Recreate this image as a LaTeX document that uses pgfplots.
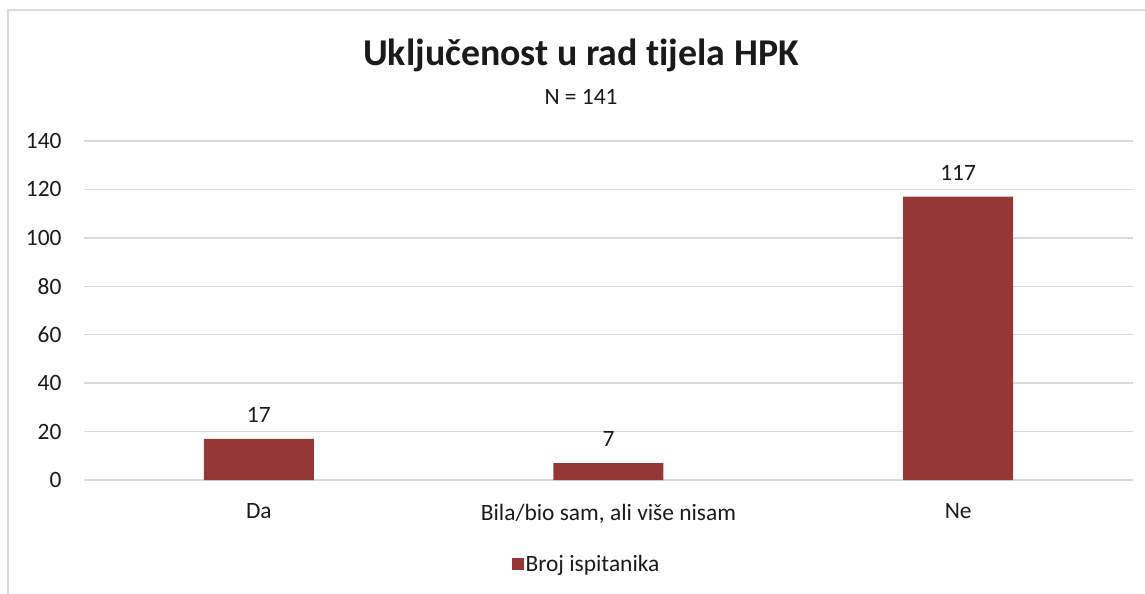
\documentclass[border=0pt]{standalone}
\usepackage{fontspec}
\setmainfont{Carlito}[Ligatures=NoCommon]
\usepackage{pgfplots}
\pgfplotsset{compat=1.18}
\definecolor{barc}{HTML}{953735}
\definecolor{gridc}{HTML}{D9D9D9}
\definecolor{txt}{HTML}{1A1A1A}
\begin{document}
\begin{tikzpicture}[x=1bp,y=1bp]
\useasboundingbox (0,0) rectangle (1145,-594);
\draw[gridc, line width=1.5bp] (8,-600) -- (8,-10) -- (1150,-10);
\begin{axis}[at={(84bp,-480bp)}, anchor=south west, scale only axis,
  width=1049bp, height=339bp,
  xmin=-0.5, xmax=2.5, ymin=0, ymax=140,
  ytick={0,20,...,140}, xtick={0,1,2},
  xticklabels={Da, {Bila/bio sam, ali više nisam}, Ne},
  ymajorgrids, grid style={gridc, line width=1.5bp},
  axis line style={draw=none}, tick style={draw=none},
  /pgf/number format/assume math mode=true,
  ticklabel style={font=\fontsize{23.5}{28}\selectfont, text=txt},
  yticklabel style={xshift=-19bp},
  xticklabel style={yshift=-16bp},
  ybar, bar width=110bp,
  nodes near coords,
  every node near coord/.append style={font=\fontsize{23.5}{28}\selectfont, text=txt, yshift=13bp},
  legend style={at={(0.479,-0.248)}, anchor=center, draw=none, fill=none, font=\fontsize{23.5}{28}\selectfont, text=txt},
  legend image code/.code={\fill[barc] (-3bp,-6bp) rectangle (9bp,6bp);},
]
\addplot[fill=barc, draw=none] coordinates {(0,17) (1,7) (2,117)};
\addlegendentry{Broj ispitanika}
\end{axis}
\node[font=\bfseries\fontsize{38}{44}\selectfont, text=txt] at (581,-55) {Uključenost u rad tijela HPK};
\node[font=\fontsize{23.5}{28}\selectfont, text=txt] at (581,-97) {N = 141};
\end{tikzpicture}
\end{document}
